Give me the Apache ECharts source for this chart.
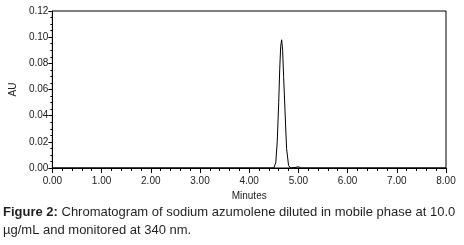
<!DOCTYPE html>
<html>
<head>
<meta charset="utf-8">
<script src="https://cdn.jsdelivr.net/npm/echarts@6/dist/echarts.min.js"></script>
<style>
  html, body { margin: 0; padding: 0; background: #fff; }
  #chart { width: 464px; height: 245px; }
</style>
</head>
<body>
<div id="chart"></div>
<script>
// retention time (min) and absorbance (AU)
const minutes = [0, 1, 2, 3, 4, 4.5, 4.54, 4.57, 4.6, 4.62, 4.64, 4.66, 4.68, 4.7, 4.73, 4.76, 4.8, 4.84, 4.95, 5.0, 5.05, 6, 7, 8]
const au = [0, 0, 0, 0, 0, 0, 0.004, 0.02, 0.05, 0.075, 0.093, 0.098, 0.09, 0.07, 0.042, 0.015, 0.002, 0, 0.0005, 0.001, 0, 0, 0, 0]

const xTicks = [0, 1, 2, 3, 4, 5, 6, 7, 8]
const yTicks = [0, 0.02, 0.04, 0.06, 0.08, 0.10, 0.12]

const captionBold = 'Figure 2:'
const captionLine1 = ' Chromatogram of sodium azumolene diluted in mobile phase at 10.0'
const captionLine2 = 'µg/mL and monitored at 340 nm.'

const myChart = echarts.init(document.getElementById('chart'))

const option = {
  animation: false,
  backgroundColor: '#fff',
  grid: {
    left: 41,
    right: 18,
    top: 11,
    bottom: 77,
    show: true,
    borderColor: '#000',
    borderWidth: 1
  },
  xAxis: {
    type: 'value',
    min: xTicks[0],
    max: xTicks[xTicks.length - 1],
    interval: 1,
    name: 'Minutes',
    nameLocation: 'middle',
    nameGap: 23,
    nameTextStyle: { fontFamily: 'Liberation Sans', fontSize: 10, color: '#222' },
    axisLine: { lineStyle: { color: '#000', width: 1 } },
    axisTick: { length: 5, lineStyle: { color: '#000' } },
    minorTick: { show: true, splitNumber: 5, length: 3, lineStyle: { color: '#000' } },
    splitLine: { show: false },
    axisLabel: {
      fontFamily: 'Liberation Sans',
      fontSize: 10,
      color: '#222',
      margin: 8,
      formatter: v => v.toFixed(2)
    }
  },
  yAxis: {
    type: 'value',
    min: yTicks[0],
    max: yTicks[yTicks.length - 1],
    interval: 0.02,
    name: 'AU',
    nameLocation: 'middle',
    nameGap: 31,
    nameRotate: 90,
    nameTextStyle: { fontFamily: 'Liberation Sans', fontSize: 10, color: '#222' },
    axisLine: { show: true, lineStyle: { color: '#000', width: 1 } },
    axisTick: { show: true, length: 4, lineStyle: { color: '#000' } },
    minorTick: { show: true, splitNumber: 4, length: 2, lineStyle: { color: '#000' } },
    splitLine: { show: false },
    axisLabel: {
      fontFamily: 'Liberation Sans',
      fontSize: 10,
      color: '#222',
      margin: 4,
      formatter: v => v.toFixed(2)
    }
  },
  series: [
    {
      type: 'line',
      data: minutes.map((t, i) => [t, au[i]]),
      showSymbol: false,
      lineStyle: { color: '#000', width: 1 },
      z: 3
    }
  ],
  graphic: [
    {
      type: 'text',
      left: 3,
      top: 206,
      style: {
        text: '{b|' + captionBold + '}' + captionLine1,
        fontFamily: 'Liberation Sans',
        fontSize: 13,
        fill: '#231f20',
        rich: {
          b: { fontFamily: 'Liberation Sans', fontSize: 13, fontWeight: 'bold', fill: '#231f20' }
        }
      }
    },
    {
      type: 'text',
      left: 3,
      top: 224,
      style: {
        text: captionLine2,
        fontFamily: 'Liberation Sans',
        fontSize: 13,
        fill: '#231f20'
      }
    }
  ]
}

myChart.setOption(option)
</script>
</body>
</html>
